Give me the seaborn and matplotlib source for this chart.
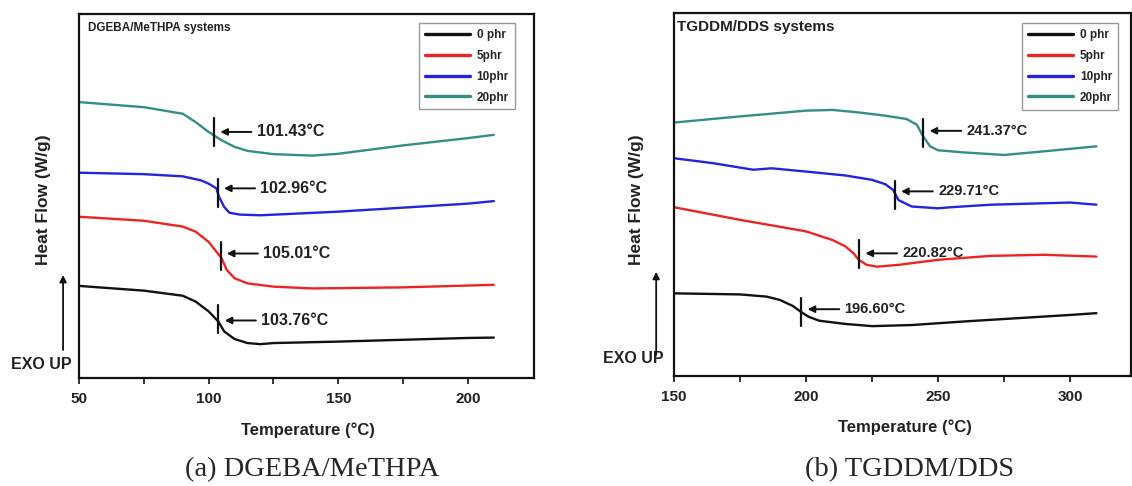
import matplotlib
matplotlib.use("Agg")
import matplotlib.pyplot as plt
import seaborn as sns
import pandas as pd

# ─── Datos ───────────────────────────────────────────────────────────────────

series_names = ["0 phr", "5phr", "10phr", "20phr"]
series_colors = ["#111111", "#ee2424", "#2424e0", "#358e86"]

# (a) DGEBA/MeTHPA
a_x_0 = [50, 75, 90, 95, 100, 103.76, 106, 110, 115, 120, 125, 150, 175, 200, 210]
a_y_0 = [25.3, 24.0, 22.6, 21.0, 18.3, 15.5, 12.8, 10.7, 9.6, 9.3, 9.6, 10.0, 10.5, 11.0, 11.1]
a_x_5 = [50, 75, 90, 95, 100, 103, 105, 107, 110, 115, 125, 140, 175, 200, 210]
a_y_5 = [44.3, 43.2, 41.6, 40.2, 37.4, 34.7, 32.9, 29.7, 27.4, 26.0, 25.1, 24.6, 24.9, 25.4, 25.6]
a_x_10 = [50, 75, 90, 97, 100, 103, 104, 106, 108, 112, 120, 150, 175, 200, 210]
a_y_10 = [56.4, 56.0, 55.4, 54.3, 53.4, 52.1, 49.8, 47.0, 45.4, 44.9, 44.7, 45.7, 46.8, 47.9, 48.6]
a_x_20 = [50, 75, 90, 95, 100, 105, 110, 115, 125, 140, 150, 175, 200, 210]
a_y_20 = [75.8, 74.4, 72.6, 70.3, 67.6, 65.3, 63.5, 62.4, 61.5, 61.1, 61.6, 63.9, 65.9, 66.8]
a_tg_labels = ["103.76", "105.01", "102.96", "101.43"]
a_mark_x = [103.8, 104.6, 103.5, 102.1]
a_mark_y = [16.2, 33.5, 50.9, 67.6]
a_arrow_y = [15.8, 34.2, 52.1, 67.6]

# (b) TGDDM/DDS
b_x_0 = [150, 175, 185, 190, 195, 198, 201, 205, 215, 225, 240, 260, 280, 300, 310]
b_y_0 = [22.2, 21.9, 21.3, 20.4, 18.7, 17.1, 15.7, 14.6, 13.7, 13.1, 13.4, 14.4, 15.3, 16.2, 16.7]
b_x_5 = [150, 175, 200, 210, 215, 218, 220, 223, 227, 235, 250, 270, 290, 310]
b_y_5 = [46.1, 42.6, 39.4, 37.0, 35.2, 33.3, 31.5, 30.1, 29.6, 30.1, 31.5, 32.6, 32.9, 32.4]
b_x_10 = [150, 165, 180, 187, 200, 215, 225, 230, 233, 235, 240, 250, 255, 270, 290, 300, 310]
b_y_10 = [59.7, 58.3, 56.5, 56.9, 56.0, 54.9, 53.7, 52.5, 50.9, 48.1, 46.3, 45.8, 46.1, 46.8, 47.2, 47.4, 46.8]
b_x_20 = [150, 175, 200, 210, 220, 230, 238, 242, 244, 247, 250, 260, 275, 290, 310]
b_y_20 = [69.6, 71.3, 72.9, 73.1, 72.4, 71.5, 70.6, 69.0, 66.2, 63.0, 61.9, 61.3, 60.6, 61.6, 63.0]
b_tg_labels = ["196.60", "220.82", "229.71", "241.37"]
b_mark_x = [198.2, 220.1, 233.6, 244.4]
b_mark_y = [17.1, 33.0, 49.5, 66.8]
b_arrow_y = [17.8, 33.3, 50.5, 67.3]

# ─── Estilo ──────────────────────────────────────────────────────────────────

sns.set_theme(style="ticks")
plt.rcParams["font.family"] = ["Liberation Sans", "DejaVu Sans"]
plt.rcParams["font.weight"] = "bold"
plt.rcParams["axes.linewidth"] = 1.6

W, H = 1132, 486
fig = plt.figure(figsize=(W / 100, H / 100), dpi=100)
fig.patch.set_facecolor("white")


def px_box(left, top, right, bottom):
    return [left / W, 1 - bottom / H, (right - left) / W, (bottom - top) / H]


def to_long(xs, ys):
    frames = []
    for name, x, y in zip(series_names, xs, ys):
        frames.append(pd.DataFrame({"temp": x, "flow": y, "muestra": name}))
    return pd.concat(frames, ignore_index=True)


def draw_panel(ax, df, xlim, ylim, ticks, title, title_x, title_size, labels, mark_x, mark_y,
               arrow_y, txt_size, legend_anchor, ylab_xy, xlab_xy, exo_xy, exo_arrow):
    sns.lineplot(data=df, x="temp", y="flow", hue="muestra", palette=series_colors,
                 sort=False, estimator=None, linewidth=1.7, ax=ax)
    ax.set_xlim(*xlim)
    ax.set_ylim(*ylim)
    ax.set_xticks(ticks)
    ax.set_xticks([t + 25 for t in ticks[:-1]], minor=True)
    ax.set_yticks([])
    ax.tick_params(axis="x", which="both", direction="out", length=4, width=1.3,
                   labelsize=11, pad=6, colors="#222222")
    for lab in ax.get_xticklabels():
        lab.set_fontweight("bold")
    for s in ax.spines.values():
        s.set_visible(True)
        s.set_linewidth(1.6)
        s.set_color("#111111")

    # marcas de Tg con flecha y etiqueta
    for mx, my, ay, lab in zip(mark_x, mark_y, arrow_y, labels):
        ax.plot([mx, mx], [my - 3.9, my + 3.9], color="#111111", lw=1.6)
        head = mx + 2.4
        tail = head + 12
        ax.annotate("", xy=(head, ay), xytext=(tail, ay),
                    arrowprops=dict(arrowstyle="-|>", color="#111111", lw=1.4,
                                    mutation_scale=10, shrinkA=0, shrinkB=0))
        ax.text(tail + 2, ay, lab + "°C", fontsize=txt_size, fontweight="bold",
                ha="left", va="center", color="#222222")

    ax.text(title_x, 0.962, title, transform=ax.transAxes, fontsize=title_size,
            fontweight="bold", ha="left", va="center", color="#222222")

    leg = ax.legend(loc="upper right", bbox_to_anchor=legend_anchor, borderaxespad=0,
                    fancybox=False, edgecolor="#999999", framealpha=1,
                    handlelength=3.8, labelspacing=0.75, handletextpad=0.6,
                    borderpad=0.5, prop={"weight": "bold", "size": 8.5})
    leg.get_frame().set_linewidth(1.0)
    for line in leg.get_lines():
        line.set_linewidth(2.4)

    ax.set_ylabel("Heat Flow (W/g)", fontsize=12.5, fontweight="bold", color="#222222")
    ax.yaxis.set_label_coords(*ylab_xy)
    ax.yaxis.label.set_va("center")
    ax.set_xlabel("Temperature (°C)", fontsize=12, fontweight="bold", color="#222222")
    ax.xaxis.set_label_coords(*xlab_xy)
    ax.xaxis.label.set_va("center")

    ax.text(exo_xy[0], exo_xy[1], "EXO UP", transform=ax.transAxes, fontsize=11.5,
            fontweight="bold", ha="center", va="center", color="#222222", clip_on=False)
    ax.annotate("", xy=(exo_arrow[0], exo_arrow[2]), xytext=(exo_arrow[0], exo_arrow[1]),
                xycoords="axes fraction", textcoords="axes fraction",
                arrowprops=dict(arrowstyle="-|>", color="#111111", lw=1.3,
                                mutation_scale=10, shrinkA=0, shrinkB=0),
                annotation_clip=False)


# ─── Panel (a) ───────────────────────────────────────────────────────────────

ax_a = fig.add_axes(px_box(79, 14, 534, 378))
df_a = to_long([a_x_0, a_x_5, a_x_10, a_x_20], [a_y_0, a_y_5, a_y_10, a_y_20])
draw_panel(ax_a, df_a, (50, 225.5), (0, 100), [50, 100, 150, 200],
           "DGEBA/MeTHPA systems", 0.02, 8.5, a_tg_labels, a_mark_x, a_mark_y, a_arrow_y, 11.5,
           (0.958, 0.975), (-0.079, 0.489), (0.503, -0.143),
           (-0.0835, 0.038), (-0.035, 0.077, 0.283))

# ─── Panel (b) ───────────────────────────────────────────────────────────────

ax_b = fig.add_axes(px_box(674, 13, 1131, 376))
df_b = to_long([b_x_0, b_x_5, b_x_10, b_x_20], [b_y_0, b_y_5, b_y_10, b_y_20])
draw_panel(ax_b, df_b, (150, 323.1), (-0.74, 100), [150, 200, 250, 300],
           "TGDDM/DDS systems", 0.007, 11, b_tg_labels, b_mark_x, b_mark_y, b_arrow_y, 10.5,
           (0.9716, 0.972), (-0.081, 0.485), (0.505, -0.140),
           (-0.09, 0.047), (-0.039, 0.058, 0.287))

# ─── Pies de figura ──────────────────────────────────────────────────────────

fig.text(312 / W, 1 - 470 / H, "(a) DGEBA/MeTHPA", fontsize=20.5,
         family=["Liberation Serif"], fontweight="normal", ha="center", va="center")
fig.text(910 / W, 1 - 470 / H, "(b) TGDDM/DDS", fontsize=20.5,
         family=["Liberation Serif"], fontweight="normal", ha="center", va="center")

fig.savefig("out.png", dpi=100)
